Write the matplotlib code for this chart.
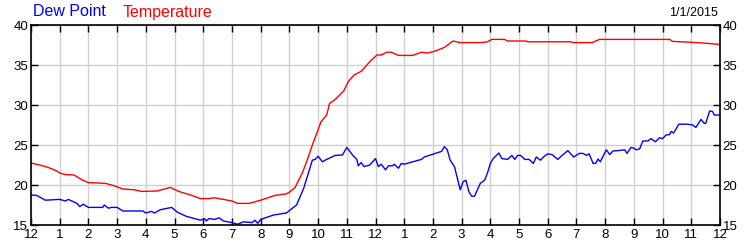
import matplotlib
matplotlib.use("Agg")
import matplotlib.pyplot as plt

temp_hours = [0, 0.3, 0.6, 0.9, 1.0, 1.2, 1.5, 1.8, 2.0, 2.6, 2.9, 3.2, 3.6, 3.85, 4.4, 4.85,
              5.15, 5.6, 5.9, 6.2, 6.4, 6.55, 7.0, 7.2, 7.6, 8.0, 8.5, 8.9, 9.0, 9.2, 9.45, 9.6,
              9.8, 10.0, 10.1, 10.3, 10.4, 10.6, 10.9, 11.05, 11.25, 11.5, 11.8, 12.05, 12.2,
              12.4, 12.55, 12.8, 13.3, 13.6, 13.8, 14.05, 14.4, 14.7, 14.95, 15.7, 15.9, 16.05,
              16.5, 16.6, 17.25, 17.3, 18.8, 18.9, 19.55, 19.8, 22.25, 22.35, 22.95, 23.4, 23.9, 24]
temp_vals = [22.75, 22.5, 22.2, 21.75, 21.5, 21.3, 21.25, 20.6, 20.3, 20.2, 19.9, 19.5, 19.4, 19.2,
             19.25, 19.7, 19.2, 18.7, 18.3, 18.3, 18.4, 18.3, 18.0, 17.7, 17.7, 18.1, 18.7, 18.9,
             19.1, 19.7, 21.5, 22.9, 25.0, 26.9, 27.9, 28.75, 30.2, 30.7, 31.8, 32.9, 33.75, 34.2,
             35.4, 36.25, 36.25, 36.6, 36.6, 36.2, 36.2, 36.6, 36.5, 36.7, 37.2, 38.0, 37.8, 37.8,
             37.9, 38.2, 38.2, 38.0, 38.0, 37.9, 37.9, 37.8, 37.8, 38.2, 38.2, 37.95, 37.85, 37.75,
             37.6, 37.55]

dew_hours = [0, 0.2, 0.5, 1.0, 1.2, 1.3, 1.6, 1.7, 1.82, 2.0, 2.5, 2.55, 2.7, 2.8, 3.0, 3.2, 3.9,
             4.0, 4.2, 4.3, 4.5, 4.9, 5.1, 5.4, 5.9, 6.05, 6.1, 6.2, 6.4, 6.55, 6.7, 7.0, 7.2, 7.4,
             7.7, 7.8, 7.9, 8.0, 8.45, 8.9, 9.0, 9.25, 9.5, 9.8, 9.9, 10.0, 10.15, 10.3, 10.6, 10.85,
             11.0, 11.2, 11.35, 11.4, 11.5, 11.6, 11.8, 12.0, 12.1, 12.2, 12.35, 12.45, 12.6, 12.65,
             12.8, 12.9, 13.0, 13.3, 13.6, 13.7, 14.05, 14.3, 14.4, 14.5, 14.6, 14.75, 14.95, 15.05,
             15.15, 15.25, 15.35, 15.45, 15.65, 15.8, 15.9, 16.0, 16.1, 16.3, 16.4, 16.6, 16.75,
             16.85, 16.95, 17.05, 17.2, 17.35, 17.5, 17.6, 17.75, 17.85, 18.0, 18.15, 18.35, 18.5,
             18.7, 18.9, 19.1, 19.23, 19.35, 19.44, 19.58, 19.67, 19.75, 19.83, 20.04, 20.16, 20.27,
             20.45, 20.68, 20.76, 20.9, 21.0, 21.08, 21.2, 21.31, 21.49, 21.6, 21.75, 21.89, 22.0,
             22.12, 22.24, 22.3, 22.38, 22.47, 22.56, 22.87, 23.05, 23.16, 23.34, 23.45, 23.5,
             23.64, 23.74, 23.8, 24]
dew_vals = [18.75, 18.7, 18.1, 18.2, 18.0, 18.2, 17.7, 17.3, 17.6, 17.2, 17.2, 17.5, 17.1, 17.2,
            17.2, 16.75, 16.75, 16.5, 16.7, 16.5, 16.9, 17.2, 16.6, 16.1, 15.6, 15.8, 15.5, 15.8,
            15.7, 15.9, 15.5, 15.3, 15.1, 15.4, 15.3, 15.6, 15.2, 15.7, 16.25, 16.5, 16.8, 17.5,
            19.6, 23.1, 23.2, 23.6, 22.9, 23.2, 23.7, 23.75, 24.7, 23.75, 23.2, 22.4, 22.8, 22.3,
            22.5, 23.3, 22.3, 22.6, 21.9, 22.4, 22.4, 22.6, 22.1, 22.7, 22.6, 22.9, 23.2, 23.5,
            23.9, 24.2, 24.8, 24.4, 23.1, 22.3, 19.4, 20.4, 20.6, 19.2, 18.6, 18.6, 20.2, 20.6,
            21.5, 22.7, 23.3, 24.0, 23.3, 23.2, 23.7, 23.2, 23.7, 23.7, 23.2, 23.2, 22.7, 23.5,
            23.1, 23.5, 23.9, 23.8, 23.2, 23.7, 24.3, 23.5, 23.95, 23.95, 23.7, 23.9, 22.7, 22.7,
            23.25, 22.9, 24.4, 23.8, 24.25, 24.3, 24.4, 23.95, 24.7, 24.6, 24.4, 24.5, 25.5, 25.5,
            25.8, 25.4, 25.9, 25.8, 26.25, 26.3, 26.7, 26.5, 27.0, 27.6, 27.6, 27.5, 27.2, 28.2,
            27.7, 27.7, 29.25, 29.2, 28.75, 28.75]

x_ticks = list(range(0, 25))
x_labels = ["12", "1", "2", "3", "4", "5", "6", "7", "8", "9", "10", "11",
            "12", "1", "2", "3", "4", "5", "6", "7", "8", "9", "10", "11", "12"]
y_ticks = [15, 20, 25, 30, 35, 40]

plt.rcParams['font.family'] = ['Liberation Sans', 'DejaVu Sans']

fig = plt.figure(figsize=(7.5, 2.5), dpi=100)
ax = fig.add_axes([31/750, 0.1, (720-31)/750, 0.8])

ax.plot(dew_hours, dew_vals, color='#0000ff', lw=1.0)
ax.plot(temp_hours, temp_vals, color='#ff0000', lw=1.0)

ax.set_xlim(0, 24)
ax.set_ylim(15, 40)
ax.set_xticks(x_ticks)
ax.set_xticklabels(x_labels)
ax.set_yticks(y_ticks)
ax.grid(True, color='#d0d0d0', lw=1.0)
ax.set_axisbelow(True)
ax.tick_params(axis='both', direction='in', length=5, width=1, labelsize=9.5,
               top=True, right=True, labelright=True, pad=2, color='black')
ax.tick_params(axis='x', pad=3)
for s in ax.spines.values():
    s.set_linewidth(1.2)
    s.set_color('black')

fig.text(33/750, 1 - 12/250, "Dew Point", color='#0000ff', fontsize=11.5, va='center', ha='left')
fig.text(123/750, 1 - 12/250, "Temperature", color='#ff0000', fontsize=11.5, va='center', ha='left')
fig.text(718/750, 1 - 13/250, "1/1/2015", color='black', fontsize=9, va='center', ha='right')

fig.savefig("out.png", dpi=100)
